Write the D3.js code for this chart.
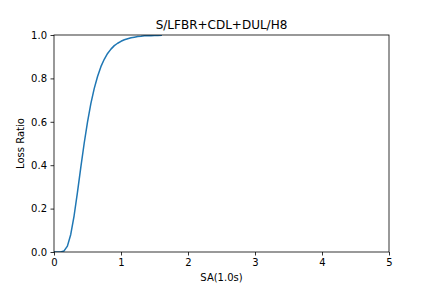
<!DOCTYPE html>
<html>
<head>
	<title> loss ratio curve </title>
	<script src="https://d3js.org/d3.v7.min.js"></script>
	<style>
		body { margin: 0; background: #fff; }
		text { font-family: "DejaVu Sans", sans-serif; fill: #000; }
	</style>
</head>
<body>
	<svg width="432" height="288"></svg>
	<script type="text/javascript">
		// values
		let sa = [0, 0.05, 0.1, 0.15, 0.2, 0.25, 0.3, 0.35, 0.4, 0.45, 0.5, 0.55, 0.6, 0.65, 0.7, 0.75,
			0.8, 0.85, 0.9, 0.95, 1.0, 1.05, 1.1, 1.15, 1.2, 1.25, 1.3, 1.35, 1.4, 1.45, 1.5, 1.55, 1.6];
		let lossRatio = [0, 0, 0.000, 0.005, 0.027, 0.081, 0.167, 0.275, 0.390, 0.500, 0.599, 0.684, 0.753, 0.809, 0.854, 0.888,
			0.915, 0.935, 0.951, 0.962, 0.971, 0.978, 0.983, 0.987, 0.990, 0.993, 0.994, 0.996, 0.997, 0.997, 0.998, 0.998, 0.999];
		let xTicks = [0, 1, 2, 3, 4, 5];
		let yTicks = [0.0, 0.2, 0.4, 0.6, 0.8, 1.0];
		let title = "S/LFBR+CDL+DUL/H8";
		let xLabel = "SA(1.0s)";
		let yLabel = "Loss Ratio";

		let svg = d3.select("svg");
		let mLeft = 54, mRight = 389, mTop = 35, mBottom = 252;

		let x = d3.scaleLinear().domain([0, 5]).range([mLeft, mRight]);
		let y = d3.scaleLinear().domain([0, 1]).range([mBottom, mTop]);

		let data = sa.map(function(d, i) { return [d, lossRatio[i]]; });

		let line = d3.line().x(function(d) { return x(d[0]); }).y(function(d) { return y(d[1]); });

		svg.append("defs").append("clipPath").attr("id", "clip")
			.append("rect").attr("x", mLeft).attr("y", mTop).attr("width", mRight - mLeft).attr("height", mBottom - mTop);

		svg.append("path").datum(data)
			.attr("clip-path", "url(#clip)")
			.attr("fill", "none")
			.attr("stroke", "#1f77b4")
			.attr("stroke-width", 1.5)
			.attr("stroke-linejoin", "round")
			.attr("stroke-linecap", "square")
			.attr("d", line);

		let xAxis = d3.axisBottom(x).tickValues(xTicks).tickFormat(d3.format("d")).tickSize(3.5).tickPadding(3.5);
		let yAxis = d3.axisLeft(y).tickValues(yTicks).tickFormat(d3.format(".1f")).tickSize(3.5).tickPadding(3.5);

		let gx = svg.append("g").attr("transform", "translate(0," + mBottom + ")").call(xAxis);
		let gy = svg.append("g").attr("transform", "translate(" + mLeft + ",0)").call(yAxis);
		[gx, gy].forEach(function(g) {
			g.select(".domain").remove();
			g.selectAll("line").attr("stroke", "#000").attr("stroke-width", 0.8);
			g.selectAll("text").style("font-family", "DejaVu Sans").style("font-size", "10px").attr("fill", "#000");
		});

		// spines
		svg.append("rect").attr("x", mLeft).attr("y", mTop).attr("width", mRight - mLeft).attr("height", mBottom - mTop)
			.attr("fill", "none").attr("stroke", "#000").attr("stroke-width", 0.8);

		svg.append("text").attr("x", (mLeft + mRight) / 2).attr("y", mTop - 6)
			.attr("text-anchor", "middle").style("font-size", "12px").text(title);
		svg.append("text").attr("x", (mLeft + mRight) / 2).attr("y", 281)
			.attr("text-anchor", "middle").style("font-size", "10px").text(xLabel);
		svg.append("text").attr("transform", "translate(24," + ((mTop + mBottom) / 2) + ") rotate(-90)")
			.attr("text-anchor", "middle").style("font-size", "10px").text(yLabel);
	</script>
</body>
</html>
